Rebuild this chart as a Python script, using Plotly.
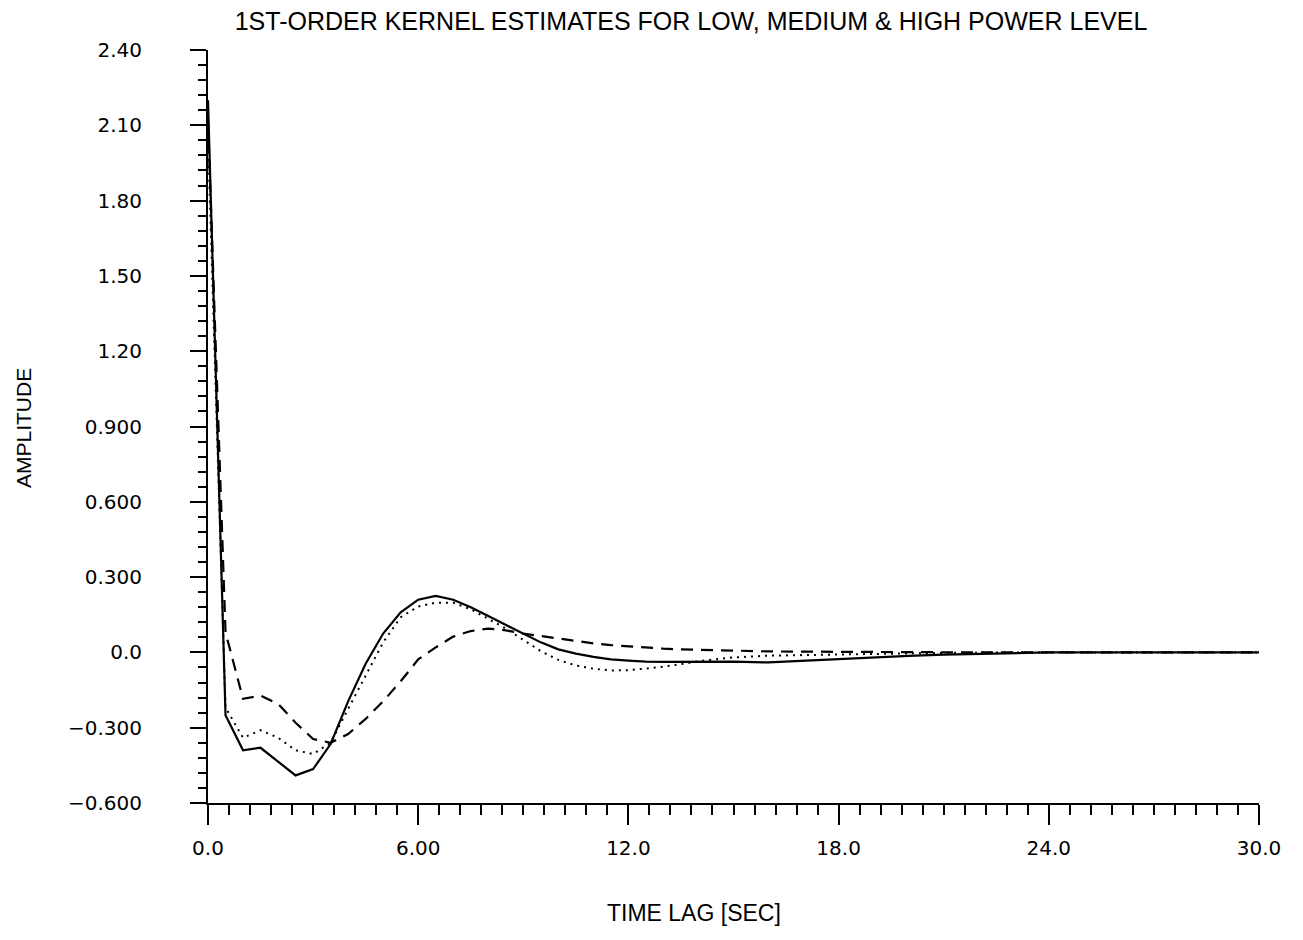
import plotly.graph_objects as go

# Time lag samples [s]
time_lag = [0.0, 0.5, 1.0, 1.5, 2.0, 2.5, 3.0, 3.5, 4.0, 4.5, 5.0, 5.5, 6.0, 6.5, 7.0, 7.5,
            8.0, 8.5, 9.0, 9.5, 10.0, 10.5, 11.0, 11.5, 12.0, 12.5, 13.0, 13.5, 14.0, 14.5,
            15.0, 16.0, 17.0, 18.0, 19.0, 20.0, 21.0, 22.0, 23.0, 24.0, 25.0, 26.0, 27.0,
            28.0, 29.0, 30.0]

# Kernel estimates (solid / dotted / dashed)
kernel_solid = [2.20, -0.25, -0.39, -0.38, -0.435, -0.49, -0.465, -0.365, -0.195, -0.045,
                0.075, 0.16, 0.21, 0.225, 0.21, 0.18, 0.145, 0.11, 0.072, 0.04, 0.012,
                -0.005, -0.018, -0.028, -0.033, -0.037, -0.038, -0.038, -0.036, -0.036,
                -0.037, -0.04, -0.033, -0.027, -0.02, -0.014, -0.009, -0.005, -0.002,
                0.0, 0.0, 0.0, 0.0, 0.0, 0.0, 0.0]

kernel_dotted = [2.05, -0.22, -0.34, -0.31, -0.34, -0.39, -0.405, -0.36, -0.225, -0.09,
                 0.04, 0.14, 0.183, 0.198, 0.198, 0.172, 0.135, 0.095, 0.05, 0.005, -0.03,
                 -0.052, -0.065, -0.072, -0.071, -0.065, -0.057, -0.047, -0.035, -0.027,
                 -0.02, -0.013, -0.01, -0.008, -0.006, -0.004, -0.002, 0.0, 0.0, 0.0,
                 0.0, 0.0, 0.0, 0.0, 0.0, 0.0]

kernel_dashed = [2.12, 0.08, -0.185, -0.172, -0.205, -0.28, -0.345, -0.36, -0.325, -0.265,
                 -0.195, -0.115, -0.028, 0.02, 0.063, 0.085, 0.095, 0.088, 0.075, 0.065,
                 0.056, 0.045, 0.036, 0.029, 0.024, 0.019, 0.015, 0.012, 0.01, 0.008,
                 0.006, 0.004, 0.003, 0.002, 0.001, 0.0, 0.0, 0.0, 0.0, 0.0, 0.0, 0.0,
                 0.0, 0.0, 0.0, 0.0]

x_tickvals = [0, 6, 12, 18, 24, 30]
x_ticktext = ["0.0", "6.00", "12.0", "18.0", "24.0", "30.0"]
y_tickvals = [-0.6, -0.3, 0.0, 0.3, 0.6, 0.9, 1.2, 1.5, 1.8, 2.1, 2.4]
y_ticktext = ["\u22120.600", "\u22120.300", "0.0", "0.300", "0.600", "0.900",
              "1.20", "1.50", "1.80", "2.10", "2.40"]

title_text = "1ST-ORDER KERNEL ESTIMATES FOR LOW, MEDIUM & HIGH POWER LEVEL"
x_title = "TIME LAG [SEC]"
y_title = "AMPLITUDE"

fig = go.Figure()
fig.add_trace(go.Scatter(x=time_lag, y=kernel_solid, mode="lines",
                         line=dict(color="black", width=2.2), showlegend=False))
fig.add_trace(go.Scatter(x=time_lag, y=kernel_dotted, mode="lines",
                         line=dict(color="black", width=2, dash="2px,5px"), showlegend=False))
fig.add_trace(go.Scatter(x=time_lag, y=kernel_dashed, mode="lines",
                         line=dict(color="black", width=2.2, dash="12px,8px"), showlegend=False))

fig.update_layout(
    width=1303, height=940,
    margin=dict(l=200, r=52, t=42, b=145),
    paper_bgcolor="white", plot_bgcolor="white",
    title=dict(text=title_text, x=683 / 1303, xanchor="center", xref="container",
               y=1 - 13 / 940, yanchor="middle",
               font=dict(family="Liberation Sans, Arial", size=25, color="black")),
    font=dict(family="DejaVu Sans", color="black"),
)

fig.update_xaxes(
    range=[0, 30], showgrid=False, zeroline=False,
    showline=True, linecolor="black", linewidth=2,
    tickmode="array", tickvals=x_tickvals, ticktext=x_ticktext,
    ticks="outside", ticklen=20, tickwidth=2, tickcolor="black",
    ticklabelstandoff=6,
    tickfont=dict(family="DejaVu Sans", size=20, color="black"),
    minor=dict(dtick=0.6, tick0=0, ticks="outside", ticklen=10, tickwidth=2,
               tickcolor="black", showgrid=False),
)
fig.update_yaxes(
    range=[-0.6, 2.4], showgrid=False, zeroline=False,
    showline=True, linecolor="black", linewidth=2,
    tickmode="array", tickvals=y_tickvals, ticktext=y_ticktext,
    ticks="outside", ticklen=16, tickwidth=2, tickcolor="black",
    ticklabelstandoff=44,
    tickfont=dict(family="DejaVu Sans", size=20, color="black"),
    minor=dict(dtick=0.06, tick0=0, ticks="outside", ticklen=8, tickwidth=2,
               tickcolor="black", showgrid=False),
)

fig.add_annotation(text=x_title, xref="paper", yref="paper",
                   x=(693 - 207) / 1051, y=(803 - 913) / 753,
                   xanchor="center", yanchor="middle", showarrow=False,
                   font=dict(family="Liberation Sans, Arial", size=23, color="black"))
fig.add_annotation(text=y_title, xref="paper", yref="paper",
                   x=(22 - 207) / 1051, y=(803 - 428) / 753, textangle=-90,
                   xanchor="center", yanchor="middle", showarrow=False,
                   font=dict(family="Liberation Sans, Arial", size=21, color="black"))

fig.write_html("out.html")
